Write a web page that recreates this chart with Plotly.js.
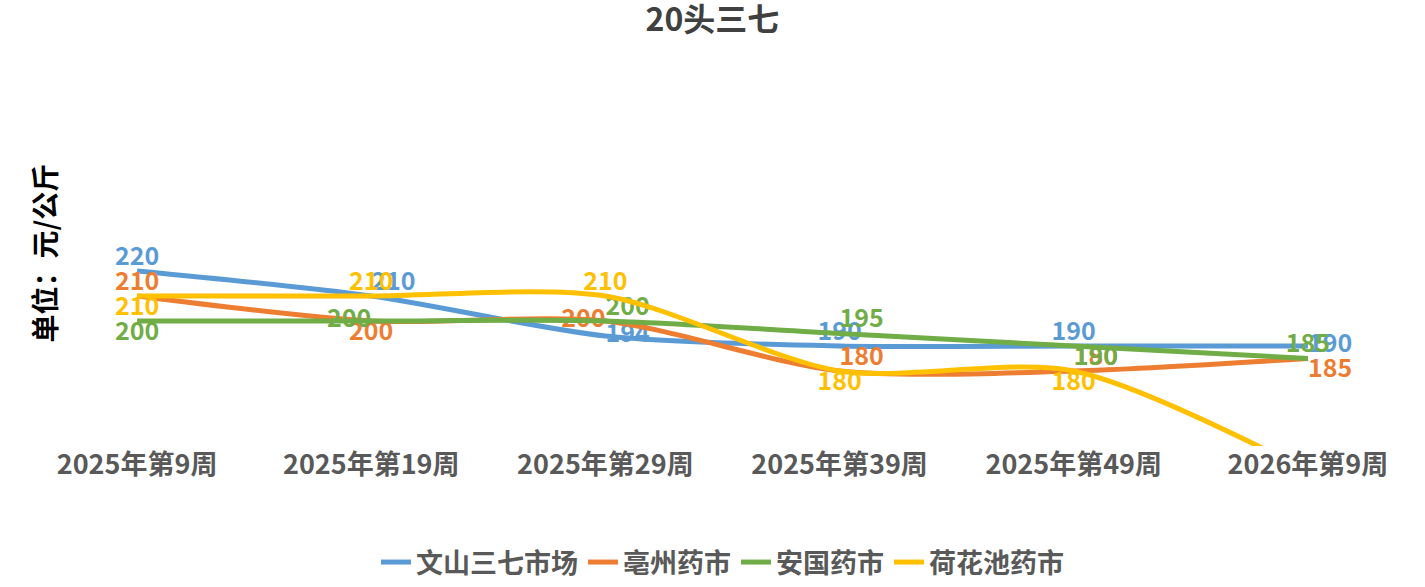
<!DOCTYPE html>
<html><head><meta charset="utf-8">
<script src="https://cdn.plot.ly/plotly-3.0.1.min.js"></script>
<style>body{margin:0}</style></head>
<body><div id="c" style="width:1425px;height:587px"></div>
<script>
const categories = ["2025年第9周","2025年第19周","2025年第29周","2025年第39周","2025年第49周","2026年第9周"];
const wenshan = [220, 210, 194, 190, 190, 190];
const bozhou = [210, 200, 200, 180, 180, 185];
const anguo = [200, 200, 200, 195, 190, 185];
const hehuachi = [210, 210, 210, 180, 180, 140];
const F = "Noto Sans CJK SC, Noto Sans, sans-serif";
function tr(name, y, color, pos, hideLast) {
  return {x: categories, y: y, name: name, type: "scatter", mode: "lines+text",
    line: {shape: "spline", smoothing: 0.8, width: 5, color: color},
    text: y.map((v, i) => (hideLast && i === y.length - 1) ? "" : String(v)), textposition: pos,
    textfont: {family: F, size: 25, color: color, weight: "bold"}, cliponaxis: true};
}
const data = [
  tr("文山三七市场", wenshan, "#5B9BD5", ["top center","top right","middle right","top center","top center","middle right"]),
  tr("亳州药市", bozhou, "#ED7D31", ["top center","bottom center","middle left","top right","top right","bottom right"]),
  tr("安国药市", anguo, "#70AD47", ["bottom center","middle left","top right","top right","bottom right","top center"]),
  tr("荷花池药市", hehuachi, "#FFC000", ["bottom center","top center","top center","bottom center","bottom center","top center"], true)
];
Plotly.newPlot("c", data, {
  width: 1425, height: 587, paper_bgcolor: "#fff", plot_bgcolor: "#fff",
  margin: {l: 20, r: 0, t: 96, b: 141, autoexpand: false},
  title: {text: "<b>20头三七</b>", x: 0.5, y: 0.985, yanchor: "top", font: {family: F, size: 32, color: "#404040"}},
  xaxis: {type: "category", range: [-0.5, 5.5], showgrid: false, zeroline: false, showline: false, ticks: "",
    tickfont: {family: F, size: 27, color: "#595959", weight: "bold"}},
  yaxis: {range: [150, 290], visible: false},
  showlegend: true,
  legend: {orientation: "h", x: 0.5, xanchor: "center", yref: "container", y: 0.0, yanchor: "bottom",
    font: {family: F, size: 27, color: "#595959", weight: "bold"}},
  annotations: [{text: "<b>单位：元/公斤</b>", textangle: -90, xref: "paper", yref: "paper", x: 0, xanchor: "left",
    xshift: 2, y: 0.55, showarrow: false, font: {family: F, size: 28, color: "#000"}}]
}, {staticPlot: true});
</script></body></html>
